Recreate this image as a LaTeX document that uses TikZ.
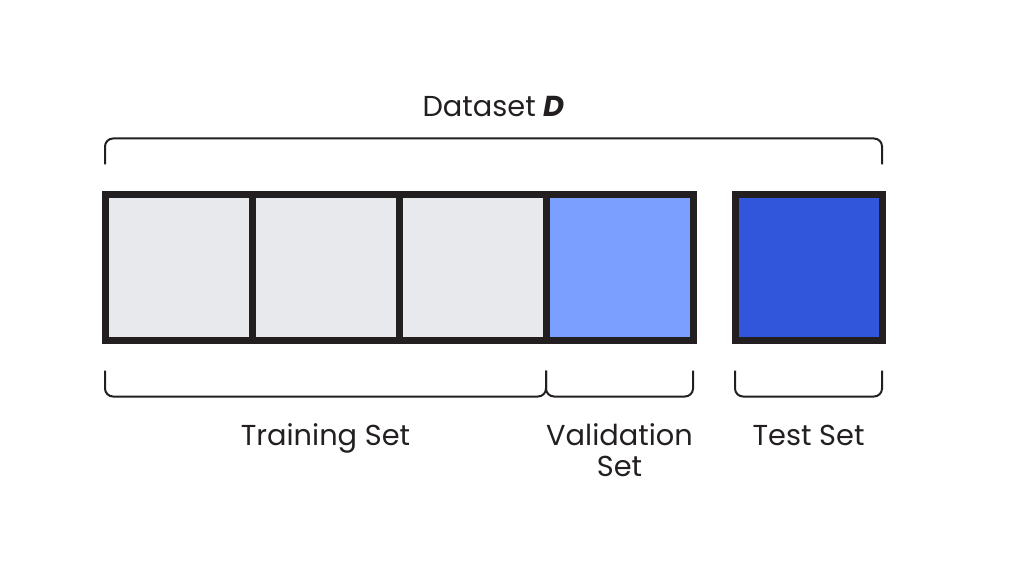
\documentclass[tikz,border=0pt]{standalone}
\usepackage{fontspec}
\setmainfont{Poppins}
\usetikzlibrary{positioning,calc}

\definecolor{edgedark}{HTML}{231F20}
\definecolor{foldgray}{HTML}{E8E9EC}
\definecolor{valblue}{HTML}{7B9FFF}
\definecolor{testblue}{HTML}{3155DB}

\begin{document}
\begin{tikzpicture}[
  x=0.25mm, y=-0.25mm,
  fold/.style={draw=edgedark, line width=1.75mm, rectangle, minimum width=36.75mm, minimum height=36.5mm, inner sep=0pt, outer sep=0pt},
  brace/.style={draw=edgedark, line width=0.5mm, rounded corners=2mm},
  label/.style={anchor=base, align=center, text=edgedark, font=\fontsize{20.5}{22}\selectfont}
]
\useasboundingbox (0,0) rectangle (1024,573);

% Folds of the dataset
\node[fold, fill=foldgray] (fold1) at (178.5, 267.5) {};
\node[fold, fill=foldgray, right=0pt of fold1] (fold2) {};
\node[fold, fill=foldgray, right=0pt of fold2] (fold3) {};
\node[fold, fill=valblue, right=0pt of fold3] (fold4) {};
\node[fold, fill=testblue, right=10.5mm of fold4] (fold5) {};

% Brackets
\draw[brace] ($(fold1.north west)+(0,-30)$) -- ++(0,-26) -| ($(fold5.north east)+(0,-30)$);
\draw[brace] ($(fold1.south west)+(0,30)$) -- ++(0,26) -| ($(fold3.south east)+(0,30)$);
\draw[brace] ($(fold4.south west)+(0,30)$) -- ++(0,26) -| ($(fold4.south east)+(0,30)$);
\draw[brace] ($(fold5.south west)+(0,30)$) -- ++(0,26) -| ($(fold5.south east)+(0,30)$);

% Labels
\node[label] (datalbl) at ($(fold1.north west)!0.5!(fold5.north east)+(0,-78)$) {Dataset \textbf{\textit{D}}};
\node[label] (trainlbl) at ($(fold1.south west)!0.5!(fold3.south east)+(0,105)$) {Training Set};
\node[label] (vallbl) at ($(fold4.south)+(0,136)$) {Validation\\Set};
\node[label] (testlbl) at ($(fold5.south)+(0,105)$) {Test Set};

\end{tikzpicture}
\end{document}
